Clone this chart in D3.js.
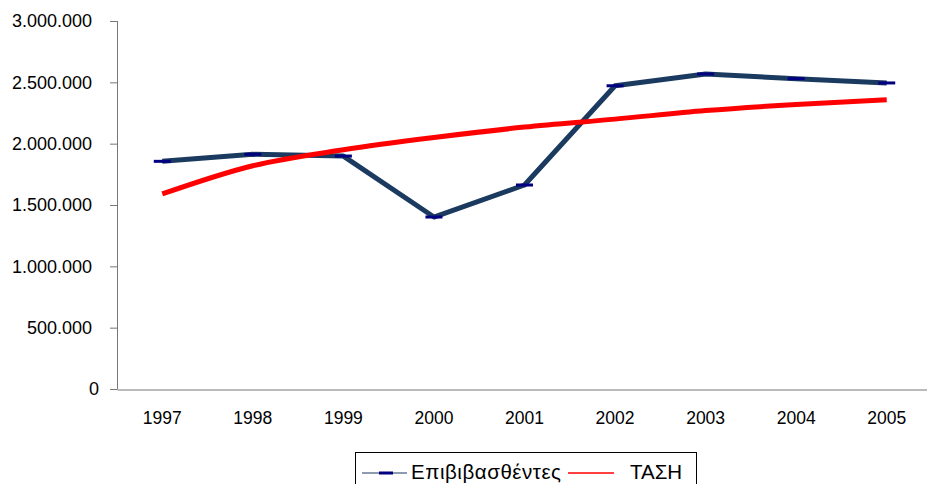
<!DOCTYPE html>
<html>
<head>
<meta charset="utf-8">
<script src="https://cdn.jsdelivr.net/npm/d3@7"></script>
<style>
	body { margin: 0; background: #fff; }
	svg { display: block; }
	text { font-family: 'Liberation Sans', Arial, sans-serif; }
</style>
</head>
<body>
<div id="chart"></div>
<script>
// chart data
var years = ['1997', '1998', '1999', '2000', '2001', '2002', '2003', '2004', '2005'];
var passengers = [1856000, 1913000, 1899000, 1402000, 1663000, 2472000, 2568000, 2530000, 2495000];
var trend = [1590000, 1820000, 1950000, 2050000, 2135000, 2200000, 2270000, 2320000, 2358000];
var yTicks = [0, 500000, 1000000, 1500000, 2000000, 2500000, 3000000];
var seriesNames = ['Επιβιβασθέντες', 'ΤΑΣΗ'];

(function () {
	var width = 927;
	var height = 484;
	var margin = {top: 21, right: -5, bottom: 95, left: 117};

	var navy = '#1b3a5f';
	var marker = '#000080';
	var red = '#ff0000';
	var axisColor = '#777';

	var locale = d3.formatLocale({decimal: ',', thousands: '.', grouping: [3], currency: ['', '€']});
	var fmt = locale.format(',d');

	var svg = d3.select('#chart').append('svg')
		.attr('width', width)
		.attr('height', height);

	var x = d3.scaleBand()
		.domain(years)
		.range([margin.left, width - margin.right]);
	var y = d3.scaleLinear()
		.domain([0, 3000000])
		.range([height - margin.bottom, margin.top]);

	// y axis
	var yAxis = svg.append('g')
		.attr('transform', 'translate(' + [margin.left, 0] + ')')
		.call(d3.axisLeft(y).tickValues(yTicks).tickFormat(fmt).tickSize(7).tickPadding(18));
	yAxis.select('.domain').attr('stroke', axisColor).attr('d', 'M0.5,' + y(3000000) + 'V' + (y(0) + 0.5));
	yAxis.selectAll('.tick line').attr('stroke', axisColor);
	yAxis.selectAll('.tick text')
		.attr('font-size', 18)
		.attr('fill', '#000')
		.attr('font-family', null)
		.attr('dx', d => d === 0 ? 7 : 0);

	// x axis, no tick marks
	var xAxis = svg.append('g')
		.attr('transform', 'translate(0,' + y(0) + ')')
		.call(d3.axisBottom(x).tickSize(0).tickPadding(23));
	xAxis.select('.domain').attr('stroke', axisColor).attr('transform', 'translate(0,0.5)');
	xAxis.selectAll('.tick text')
		.attr('font-size', 17.5)
		.attr('fill', '#000')
		.attr('font-family', null);

	var cx = function(d, i) { return x(years[i]) + x.bandwidth() / 2; };

	// passengers line
	var line = d3.line()
		.x(cx)
		.y(d => y(d));
	svg.append('path')
		.datum(passengers)
		.attr('fill', 'none')
		.attr('stroke', navy)
		.attr('stroke-width', 5)
		.attr('stroke-linejoin', 'round')
		.attr('d', line);

	// dash markers
	svg.append('g').selectAll('rect')
		.data(passengers)
		.enter().append('rect')
		.attr('x', (d, i) => cx(d, i) - 8.5)
		.attr('y', d => y(d) - 1.5)
		.attr('width', 17)
		.attr('height', 3)
		.attr('fill', marker);

	// trend line
	var trendLine = d3.line()
		.x(cx)
		.y(d => y(d))
		.curve(d3.curveMonotoneX);
	svg.append('path')
		.datum(trend)
		.attr('fill', 'none')
		.attr('stroke', red)
		.attr('stroke-width', 5)
		.attr('d', trendLine);

	///////////////////////////////////////////////////////////////////////////
	////////// legend /////////////////////////////////////////////////////////
	///////////////////////////////////////////////////////////////////////////
	var legend = svg.append('g');
	legend.append('rect')
		.attr('x', 355.5)
		.attr('y', 452.5)
		.attr('width', 341)
		.attr('height', 45)
		.attr('fill', '#fff')
		.attr('stroke', '#000');

	var ly = 473;
	legend.append('line')
		.attr('x1', 362).attr('x2', 407)
		.attr('y1', ly).attr('y2', ly)
		.attr('stroke', navy)
		.attr('stroke-width', 1.2);
	legend.append('rect')
		.attr('x', 379).attr('y', ly - 1.5)
		.attr('width', 14).attr('height', 3)
		.attr('fill', marker);
	legend.append('text')
		.attr('x', 411).attr('y', ly - 1)
		.attr('dy', '.35em')
		.attr('font-size', 20.5)
		.attr('textLength', 150)
		.text(seriesNames[0]);

	legend.append('line')
		.attr('x1', 568).attr('x2', 614)
		.attr('y1', ly).attr('y2', ly)
		.attr('stroke', red)
		.attr('stroke-width', 1.5);
	legend.append('text')
		.attr('x', 630).attr('y', ly - 1)
		.attr('dy', '.35em')
		.attr('font-size', 20.5)
		.text(seriesNames[1]);
})();
</script>
</body>
</html>
